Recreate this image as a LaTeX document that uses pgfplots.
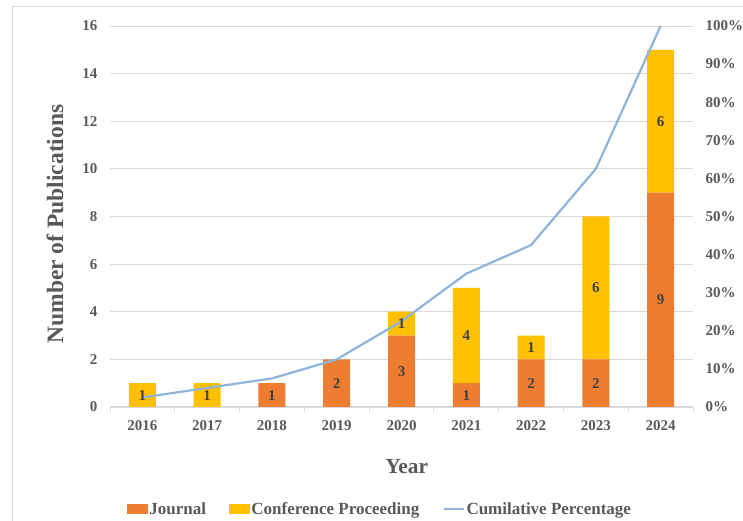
\documentclass[border=0pt]{standalone}
\usepackage{pgfplots}
\pgfplotsset{compat=1.18}
\usepackage{fontspec}
\setmainfont{Liberation Serif}
\definecolor{jo}{HTML}{ED7D31}
\definecolor{co}{HTML}{FFC000}
\definecolor{li}{HTML}{8EB4DB}
\definecolor{gridc}{HTML}{D9D9D9}
\definecolor{txt}{HTML}{595959}
\definecolor{lab}{HTML}{404040}
\newcommand{\tickfont}{\fontsize{15bp}{18bp}\selectfont\bfseries}
\begin{document}
\begin{tikzpicture}[x=1bp,y=1bp]
\path[use as bounding box] (0,0) rectangle (743,521);
\clip (0,0) rectangle (743,521);
\draw[gridc, line width=1bp] (12,-20) rectangle (780,514);
\pgfplotsset{
  common/.style={
    at={(110bp,114bp)}, anchor=south west, scale only axis,
    width=583bp, height=381bp, xmin=-0.5, xmax=8.5,
    /pgf/number format/assume math mode=true,
    tick label style={font=\tickfont, text=txt},
  }
}
% bars
\begin{axis}[common,
  ymin=0, ymax=16,
  ybar stacked, bar width=27bp,
  xtick={0,...,8}, xticklabels={2016,2017,2018,2019,2020,2021,2022,2023,2024},
  minor xtick={-0.5,0.5,...,8.5},
  ytick={0,2,...,16},
  major tick length=0pt, minor tick length=5bp,
  tick align=outside,
  axis x line*=bottom, axis y line*=left,
  x axis line style={-, draw=gridc, line width=1bp},
  y axis line style={draw=none},
  minor tick style={draw=gridc, line width=1bp},
  ymajorgrids, grid style={draw=gridc, line width=0.8bp},
  yticklabel style={xshift=-9bp},
  xticklabel style={yshift=-10bp},
  xlabel={Year}, ylabel={Number of Publications},
  xlabel style={at={(axis description cs:0.509,-0.1575)}, anchor=center, font=\fontsize{21.5bp}{24bp}\selectfont\bfseries, text=txt},
  ylabel style={at={(axis description cs:-0.0943,0.48)}, anchor=center, font=\fontsize{23.5bp}{26bp}\selectfont\bfseries, text=txt},
]
\addplot[fill=jo, draw=none] coordinates {(0,0) (1,0) (2,1) (3,2) (4,3) (5,1) (6,2) (7,2) (8,9)};
\addplot[fill=co, draw=none] coordinates {(0,1) (1,1) (2,0) (3,0) (4,1) (5,4) (6,1) (7,6) (8,6)};
\end{axis}
% cumulative line
\begin{axis}[common,
  ymin=0, ymax=100,
  axis x line=none, axis y line*=right,
  y axis line style={draw=none},
  ytick={0,10,...,100},
  yticklabel={\pgfmathprintnumber{\tick}\%},
  major tick length=0pt,
  yticklabel style={xshift=9bp},
  clip=false,
  legend columns=3,
  legend style={draw=none, fill=none, at={(axis description cs:0.463,-0.2677)}, anchor=center,
    font=\fontsize{17bp}{20bp}\selectfont\bfseries, text=txt,
    /tikz/every even column/.append style={column sep=22bp},
    nodes={inner sep=1.5bp}},
]
\addlegendimage{legend image code/.code={\fill[jo] (0bp,-4.5bp) rectangle (20bp,4.5bp);}}
\addlegendentry{Journal}
\addlegendimage{legend image code/.code={\fill[co] (0bp,-4.5bp) rectangle (20bp,4.5bp);}}
\addlegendentry{Conference Proceeding}
\addplot[li, line width=2.2bp, mark=none, legend image code/.code={\draw[li, line width=2.2bp] (0bp,0bp) -- (20bp,0bp);}]
  coordinates {(0,2.5) (1,5) (2,7.5) (3,12.5) (4,22.5) (5,35) (6,42.5) (7,62.5) (8,100)};
\addlegendentry{Cumilative Percentage}
\end{axis}
% data labels
\begin{axis}[common, ymin=0, ymax=16, hide axis]
\addplot[draw=none, mark=none, nodes near coords, point meta=explicit symbolic,
  nodes near coords style={anchor=center, font=\tickfont, text=lab}]
  coordinates {(0,0.5)[1] (1,0.5)[1] (2,0.5)[1] (3,1)[2] (4,1.5)[3] (4,3.5)[1]
    (5,0.5)[1] (5,3)[4] (6,1)[2] (6,2.5)[1] (7,1)[2] (7,5)[6] (8,4.5)[9] (8,12)[6]};
\end{axis}
\end{tikzpicture}
\end{document}
